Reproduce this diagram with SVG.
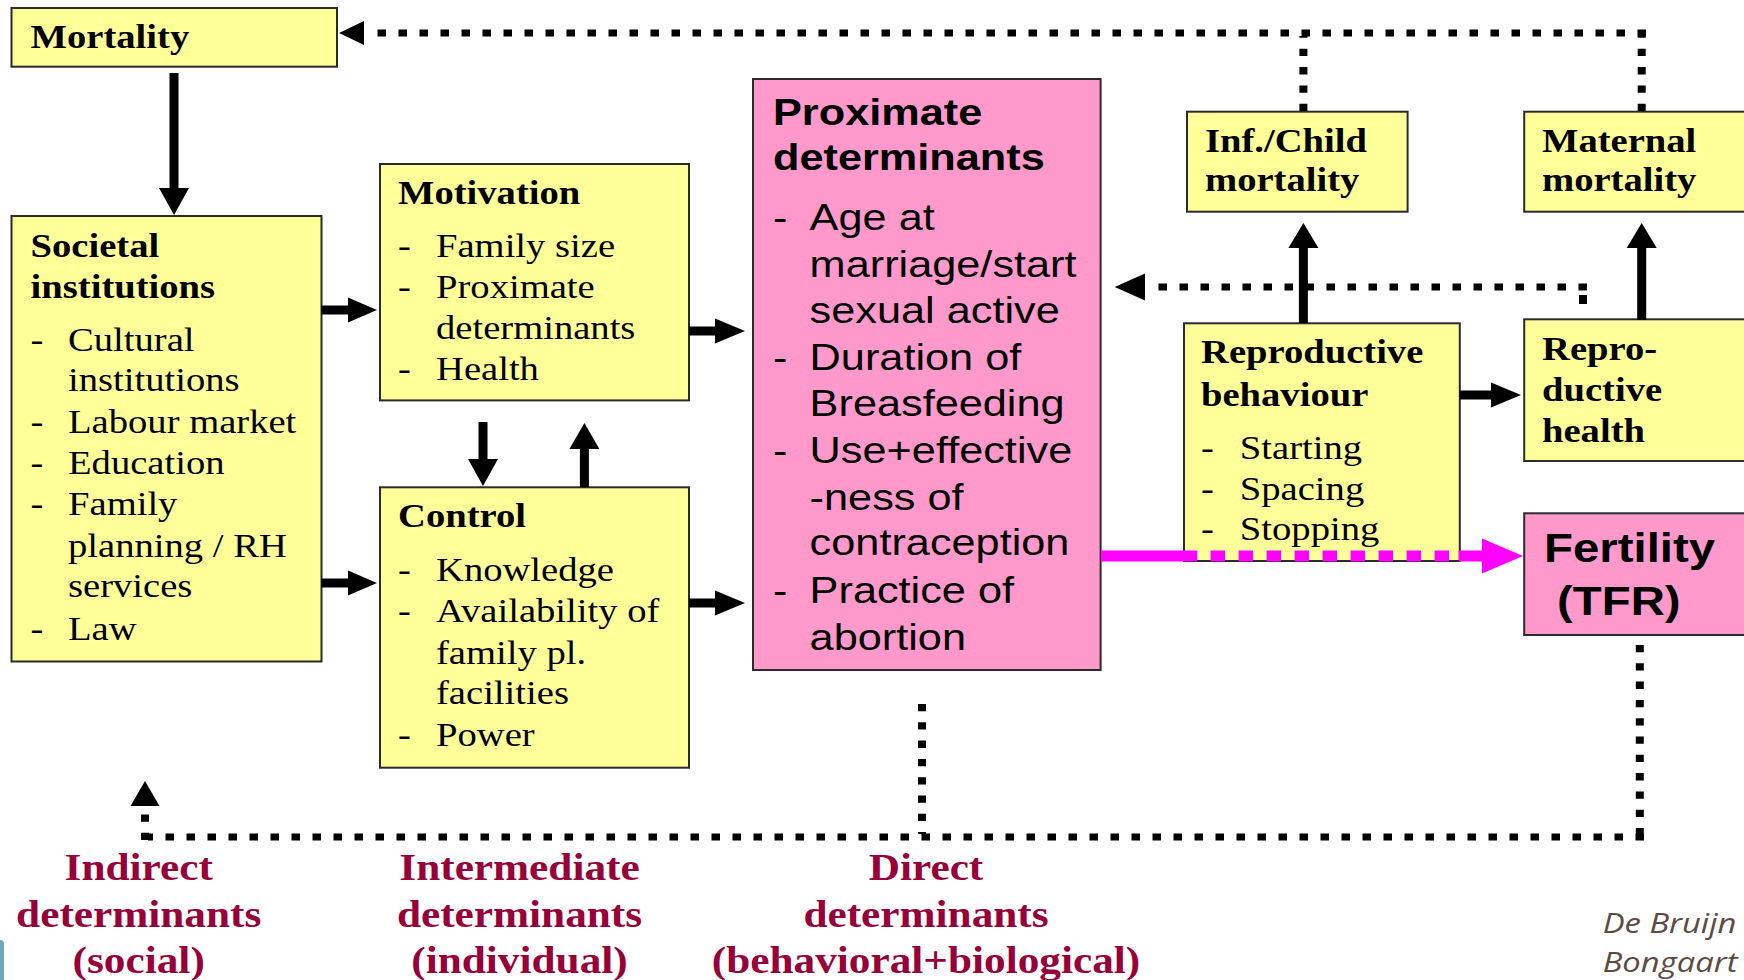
<svg xmlns="http://www.w3.org/2000/svg" width="1744" height="980" viewBox="0 0 1744 980">
<style>
.by{fill:#ffff99;stroke:#2b2b2b;stroke-width:2}
.bp{fill:#ff99cc;stroke:#2b2b2b;stroke-width:2}
.tb{font-family:"Liberation Serif","Times New Roman",serif;font-weight:bold;font-size:33px;fill:#000}
.tr{font-family:"Liberation Serif","Times New Roman",serif;font-size:33px;fill:#000}
.ab{font-family:"Liberation Sans",Arial,sans-serif;font-weight:bold;font-size:37px;fill:#000}
.ar{font-family:"Liberation Sans",Arial,sans-serif;font-size:37px;fill:#000}
.fb{font-family:"Liberation Sans",Arial,sans-serif;font-weight:bold;font-size:40.5px;fill:#000}
.lab{font-family:"Liberation Serif","Times New Roman",serif;font-weight:bold;font-size:37px;fill:#970038;text-anchor:middle}
.cite{font-family:"Open Sans","Noto Sans",sans-serif;font-style:italic;font-size:28px;fill:#5b4b43}
.solid{stroke:#000;stroke-width:9;fill:none}
.dotH{stroke:#000;stroke-width:7;stroke-dasharray:8.5 12.5;fill:none}
.dotV{stroke:#000;stroke-width:8;stroke-dasharray:7.3 11;fill:none}
.head{fill:#000}
.mag{stroke:#ff00ff;stroke-width:11;fill:none}
</style>
<rect x="0" y="0" width="1744" height="980" fill="#ffffff"/>
<rect x="-4" y="940" width="8" height="44" rx="4" fill="#6fa7c0"/>

<g id="mortality">
<rect class="by" x="11.5" y="8" width="325.5" height="58.7"/>
<text class="tb" transform="translate(30.6 0) scale(1.17 1)"><tspan x="0" y="48.5">Mortality</tspan></text>
</g>

<g id="societal">
<rect class="by" x="11.5" y="216" width="310" height="445.5"/>
<text class="tb" transform="translate(30.6 0) scale(1.17 1)"><tspan x="0" y="257">Societal</tspan><tspan x="0" y="298">institutions</tspan></text>
<text class="tr" transform="translate(30.6 0) scale(1.17 1)">
<tspan x="0" y="351">-</tspan><tspan x="32" y="351">Cultural</tspan>
<tspan x="32" y="391">institutions</tspan>
<tspan x="0" y="433">-</tspan><tspan x="32" y="433">Labour market</tspan>
<tspan x="0" y="474">-</tspan><tspan x="32" y="474">Education</tspan>
<tspan x="0" y="515">-</tspan><tspan x="32" y="515">Family</tspan>
<tspan x="32" y="557">planning / RH</tspan>
<tspan x="32" y="597">services</tspan>
<tspan x="0" y="640">-</tspan><tspan x="32" y="640">Law</tspan>
</text>
</g>

<g id="motivation">
<rect class="by" x="380" y="164" width="309" height="236.4"/>
<text class="tb" transform="translate(398 0) scale(1.17 1)"><tspan x="0" y="204">Motivation</tspan></text>
<text class="tr" transform="translate(398 0) scale(1.17 1)">
<tspan x="0" y="257">-</tspan><tspan x="32.5" y="257">Family size</tspan>
<tspan x="0" y="298">-</tspan><tspan x="32.5" y="298">Proximate</tspan>
<tspan x="32.5" y="339">determinants</tspan>
<tspan x="0" y="380">-</tspan><tspan x="32.5" y="380">Health</tspan>
</text>
</g>

<g id="control">
<rect class="by" x="380" y="487.3" width="309" height="280.4"/>
<text class="tb" transform="translate(398 0) scale(1.17 1)"><tspan x="0" y="527.5">Control</tspan></text>
<text class="tr" transform="translate(398 0) scale(1.17 1)">
<tspan x="0" y="581">-</tspan><tspan x="32.5" y="581">Knowledge</tspan>
<tspan x="0" y="622">-</tspan><tspan x="32.5" y="622">Availability of</tspan>
<tspan x="32.5" y="664">family pl.</tspan>
<tspan x="32.5" y="704">facilities</tspan>
<tspan x="0" y="746">-</tspan><tspan x="32.5" y="746">Power</tspan>
</text>
</g>

<g id="proximate">
<rect class="bp" x="753" y="79" width="347.6" height="591"/>
<text class="ab" transform="translate(773 0) scale(1.17 1)"><tspan x="0" y="125">Proximate</tspan><tspan x="0" y="170">determinants</tspan></text>
<text class="ar" transform="translate(773 0) scale(1.17 1)">
<tspan x="0" y="230">-</tspan><tspan x="31.3" y="230">Age at</tspan>
<tspan x="31.3" y="277">marriage/start</tspan>
<tspan x="31.3" y="323">sexual active</tspan>
<tspan x="0" y="370">-</tspan><tspan x="31.3" y="370">Duration of</tspan>
<tspan x="31.3" y="416">Breasfeeding</tspan>
<tspan x="0" y="463">-</tspan><tspan x="31.3" y="463">Use+effective</tspan>
<tspan x="31.3" y="510">-ness of</tspan>
<tspan x="31.3" y="555">contraception</tspan>
<tspan x="0" y="603">-</tspan><tspan x="31.3" y="603">Practice of</tspan>
<tspan x="31.3" y="650">abortion</tspan>
</text>
</g>

<g id="infchild">
<rect class="by" x="1187" y="111.7" width="220.6" height="100"/>
<text class="tb" transform="translate(1205 0) scale(1.17 1)"><tspan x="0" y="152">Inf./Child</tspan><tspan x="0" y="191">mortality</tspan></text>
</g>

<g id="maternal">
<rect class="by" x="1524.2" y="111.7" width="230" height="100"/>
<text class="tb" transform="translate(1542 0) scale(1.17 1)"><tspan x="0" y="152">Maternal</tspan><tspan x="0" y="191">mortality</tspan></text>
</g>

<g id="reproductive-behaviour">
<rect class="by" x="1184" y="323.3" width="275.8" height="237.7"/>
<text class="tb" transform="translate(1201 0) scale(1.17 1)"><tspan x="0" y="363">Reproductive</tspan><tspan x="0" y="406">behaviour</tspan></text>
<text class="tr" transform="translate(1201 0) scale(1.17 1)">
<tspan x="0" y="459">-</tspan><tspan x="33.2" y="459">Starting</tspan>
<tspan x="0" y="500">-</tspan><tspan x="33.2" y="500">Spacing</tspan>
<tspan x="0" y="540">-</tspan><tspan x="33.2" y="540">Stopping</tspan>
</text>
</g>

<g id="reproductive-health">
<rect class="by" x="1524.2" y="319.3" width="230" height="141.7"/>
<text class="tb" transform="translate(1542 0) scale(1.17 1)"><tspan x="0" y="360">Repro-</tspan><tspan x="0" y="401">ductive</tspan><tspan x="0" y="442">health</tspan></text>
</g>

<g id="fertility">
<rect class="bp" x="1524.2" y="513.3" width="230" height="121.7"/>
<text class="fb" transform="translate(1544 0) scale(1.17 1)"><tspan x="0" y="562">Fertility</tspan><tspan x="11.1" y="615">(TFR)</tspan></text>
</g>

<g id="connectors">
<path class="solid" d="M174,73 V190"/>
<polygon class="head" points="159,188 189,188 174,215"/>
<path class="solid" d="M321.5,310 H350"/>
<polygon class="head" points="348,297.5 348,322.5 377,310"/>
<path class="solid" d="M321.5,583 H350"/>
<polygon class="head" points="348,570.5 348,595.5 377,583"/>
<path class="solid" d="M689,331 H717"/>
<polygon class="head" points="715,318.5 715,343.5 745,331"/>
<path class="solid" d="M689,603 H717"/>
<polygon class="head" points="715,590.5 715,615.5 745,603"/>
<path class="solid" d="M483,422 V461"/>
<polygon class="head" points="468,459 498,459 483,486"/>
<path class="solid" d="M584.4,487 V447"/>
<polygon class="head" points="569.4,449 599.4,449 584.4,423"/>
<path class="solid" d="M1303.4,323 V246"/>
<polygon class="head" points="1288.4,248 1318.4,248 1303.4,223"/>
<path class="solid" d="M1641.7,320 V246"/>
<polygon class="head" points="1626.7,248 1656.7,248 1641.7,223"/>
<path class="solid" d="M1459.8,395 H1493"/>
<polygon class="head" points="1491,382.5 1491,407.5 1521,395"/>

<path class="dotH" d="M1646,33 H366"/>
<polygon class="head" points="364,21 364,45 339,33"/>
<path class="dotV" d="M1303.4,111 V36"/>
<path class="dotV" d="M1641.7,111 V36"/>

<path class="dotH" d="M1587,287 H1147"/>
<path stroke="#000" stroke-width="8" d="M1583,295 V304"/>
<polygon class="head" points="1145,273.5 1145,300.5 1114.7,287"/>

<path class="dotV" d="M922,704 V834"/>
<path class="dotV" d="M1639.8,645 V834"/>
<path class="dotH" d="M1644,837 H148"/>
<path class="dotV" d="M145,840 V808"/>
<polygon class="head" points="130.5,806 159.5,806 145,781"/>

<path class="mag" d="M1101,556 H1197.3"/>
<path class="mag" d="M1210.6,556 H1449" stroke-dasharray="14.4 13.6"/>
<path class="mag" d="M1458.7,556 H1484"/>
<polygon fill="#ff00ff" points="1482,538.5 1482,573.5 1523,556"/>
</g>

<g id="labels">
<text class="lab" transform="translate(138.7 0) scale(1.17 1)"><tspan x="0" y="880">Indirect</tspan><tspan x="0" y="927">determinants</tspan><tspan x="0" y="973">(social)</tspan></text>
<text class="lab" transform="translate(519.5 0) scale(1.17 1)"><tspan x="0" y="880">Intermediate</tspan><tspan x="0" y="927">determinants</tspan><tspan x="0" y="973">(individual)</tspan></text>
<text class="lab" transform="translate(926 0) scale(1.17 1)"><tspan x="0" y="880">Direct</tspan><tspan x="0" y="927">determinants</tspan><tspan x="0" y="973">(behavioral+biological)</tspan></text>
<text class="cite" transform="translate(1602.7 0) scale(1.17 1)"><tspan x="0" y="933">De Bruijn</tspan><tspan x="0" y="972">Bongaart</tspan></text>
</g>
</svg>
